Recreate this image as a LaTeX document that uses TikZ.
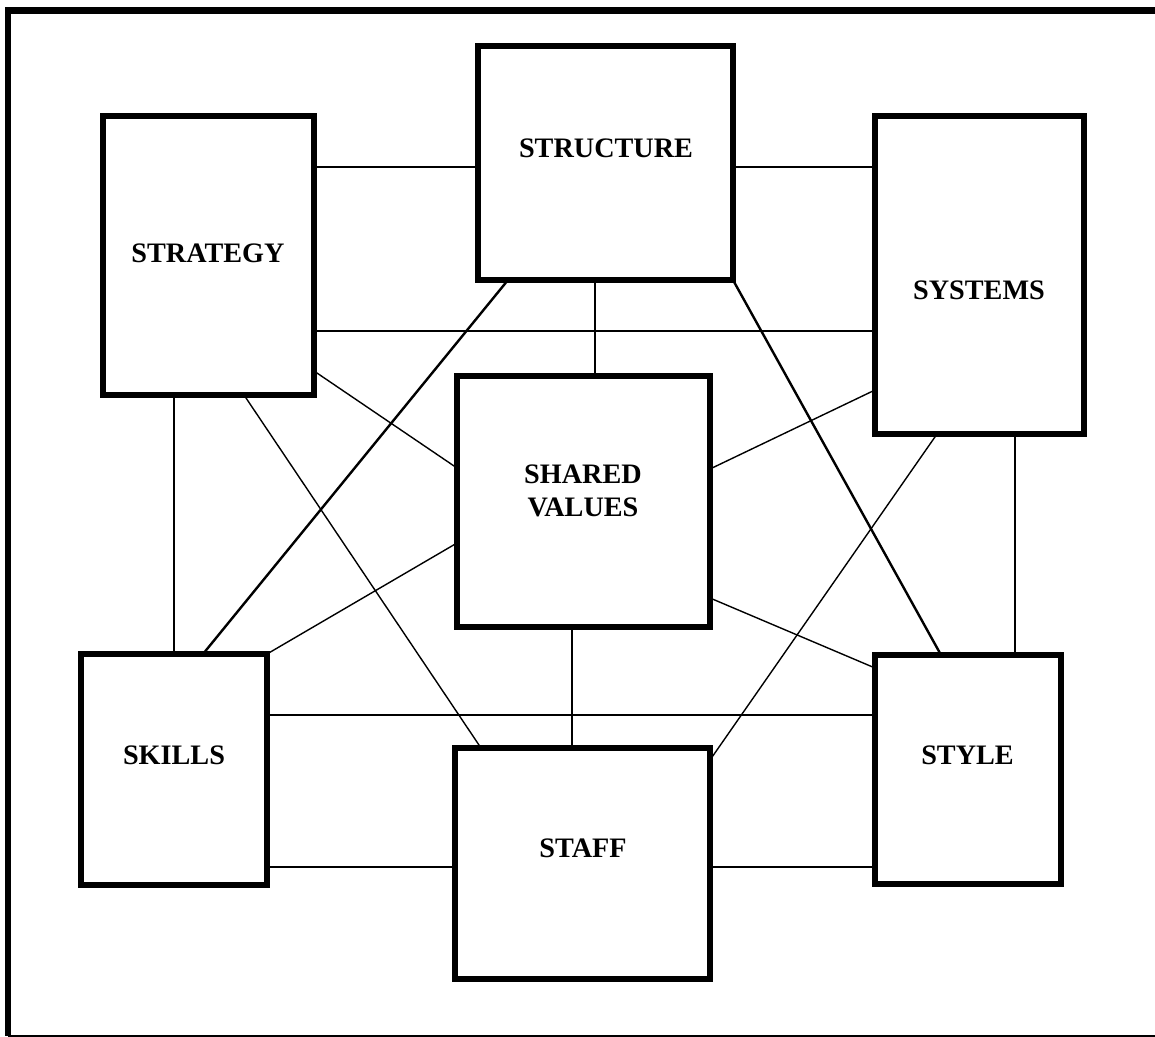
\documentclass[tikz,border=0pt]{standalone}
\usepackage{fontspec}
\setmainfont{Liberation Serif}
\usetikzlibrary{calc}
\tikzset{
  box/.style={draw, line width=2.8pt, fill=white, inner sep=0pt, outer sep=0pt},
  lbl/.style={font=\bfseries\fontsize{14.1}{16.5}\selectfont, align=center, inner sep=0pt},
  conn/.style={line width=0.7pt},
  conthick/.style={line width=1.2pt},
}
\begin{document}
\begin{tikzpicture}[x=0.5pt,y=-0.5pt]
\useasboundingbox (0,0) rectangle (1155,1037);
\clip (0,0) rectangle (1155,1037);
% frame
\draw[line width=3.2pt] (1160,10.5) -- (8,10.5) -- (8,1036);
\draw[line width=0.75pt] (8,1036) -- (1160,1036);
% helper levels
\foreach \v in {167,331,371,468,390,469,543,598,668,715,760,867} {\coordinate (h\v) at (0,\v);}
\foreach \v in {174,244,481,595,508,203,941,1015,937,572} {\coordinate (v\v) at (\v,0);}
% boxes
\node[box, minimum width=105.5pt, minimum height=139.5pt] (strategy) at (208.5,255.5) {};
\node[box, minimum width=127.5pt, minimum height=117pt] (structure) at (605.5,163) {};
\node[box, minimum width=104.5pt, minimum height=159pt] (systems) at (979.5,275) {};
\node[box, minimum width=126.5pt, minimum height=125.5pt] (shared) at (583.5,501.5) {};
\node[box, minimum width=93pt, minimum height=115.5pt] (skills) at (174,769.5) {};
\node[box, minimum width=127.5pt, minimum height=115.5pt] (staff) at (582.5,863.5) {};
\node[box, minimum width=93pt, minimum height=114.5pt] (style) at (968,769.5) {};
% connectors
\draw[conn] (strategy.east |- h167) -- (structure.west |- h167);
\draw[conn] (structure.east |- h167) -- (systems.west |- h167);
\draw[conn] (strategy.east |- h331) -- (systems.west |- h331);
\draw[conn] (strategy.east |- h371) -- (shared.west |- h468);
\draw[conn] (v174 |- strategy.south) -- (v174 |- skills.north);
\draw[conn] (v244 |- strategy.south) -- (v481 |- staff.north);
\draw[conn] (v595 |- structure.south) -- (v595 |- shared.north);
\draw[conthick] (v508 |- structure.south) -- (v203 |- skills.north);
\draw[conthick] (structure.south east) -- (v941 |- style.north);
\draw[conn] (systems.west |- h390) -- (shared.east |- h469);
\draw[conn] (v1015 |- systems.south) -- (v1015 |- style.north);
\draw[conn] (v937 |- systems.south) -- (staff.east |- h760);
\draw[conn] (shared.west |- h543) -- (skills.north east);
\draw[conn] (shared.east |- h598) -- (style.west |- h668);
\draw[conn] (v572 |- shared.south) -- (v572 |- staff.north);
\draw[conn] (skills.east |- h715) -- (style.west |- h715);
\draw[conn] (skills.east |- h867) -- (staff.west |- h867);
\draw[conn] (staff.east |- h867) -- (style.west |- h867);
% labels
\node[lbl] (strategyL) at (208,253) {STRATEGY};
\node[lbl] (structureL) at (606,148) {STRUCTURE};
\node[lbl] (systemsL) at (979,290) {SYSTEMS};
\node[lbl] (sharedL) at (583,490.5) {SHARED\\VALUES};
\node[lbl] (skillsL) at (174,755) {SKILLS};
\node[lbl] (staffL) at (583,848) {STAFF};
\node[lbl] (styleL) at (967.5,755) {STYLE};
\end{tikzpicture}
\end{document}
